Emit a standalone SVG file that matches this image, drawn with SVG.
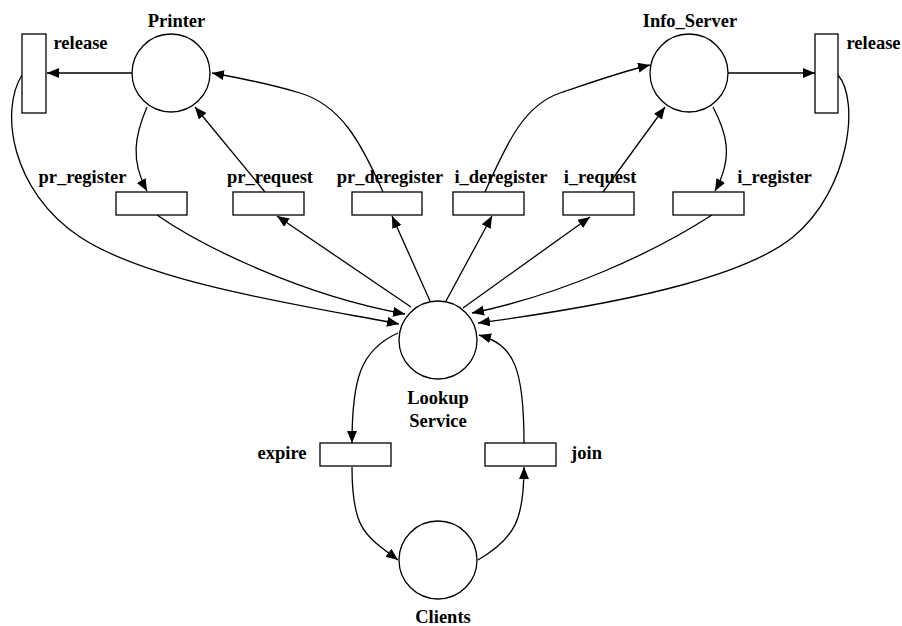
<svg xmlns="http://www.w3.org/2000/svg" width="902" height="626" viewBox="0 0 902 626">
<style>
.place{fill:#fff;stroke:#000;stroke-width:1.3}
.trans{fill:#fff;stroke:#000;stroke-width:1.3}
.lbl{font-family:"Liberation Serif","Times New Roman",serif;font-weight:bold;font-size:18.5px;fill:#000;text-anchor:middle}
.arc{fill:none;stroke:#000;stroke-width:1.3;marker-end:url(#ah)}
</style>
<defs>
<marker id="ah" markerUnits="userSpaceOnUse" markerWidth="13" markerHeight="11" refX="12" refY="5" orient="auto">
<path d="M0,0 L12,5 L0,10 z" fill="#000"/>
</marker>
</defs>
<rect width="902" height="626" fill="#fff"/>
<g id="connectors">
<path class="arc" d="M132,73 L47,73"/>
<path class="arc" d="M22,75 C0,110 10,190 80,237 C150,283 300,305 399,324"/>
<path class="arc" d="M147,107 C135,135 130,160 147,191"/>
<path class="arc" d="M157,215 C200,245 300,295 405,314"/>
<path class="arc" d="M411,307 L277,216"/>
<path class="arc" d="M265,192 L195,107"/>
<path class="arc" d="M383,192 C360,140 340,105 300,93 C270,84 240,78 212,73"/>
<path class="arc" d="M430,301 L392,216"/>
<path class="arc" d="M446,301 L492,216"/>
<path class="arc" d="M485,192 C508,140 525,105 560,93 C590,83 620,72 650,65"/>
<path class="arc" d="M463,308 L590,217"/>
<path class="arc" d="M603,192 L665,107"/>
<path class="arc" d="M713,107 C725,130 735,155 715,191"/>
<path class="arc" d="M712,215 C650,255 560,295 472,313"/>
<path class="arc" d="M728,73 L815,73"/>
<path class="arc" d="M838,75 C860,100 850,190 793,237 C750,272 650,300 478,323"/>
<path class="arc" d="M398,333 C360,350 352,380 352,443"/>
<path class="arc" d="M352,467 C352,530 365,535 398,560"/>
<path class="arc" d="M478,560 C515,538 524,520 524,467"/>
<path class="arc" d="M524,443 C524,370 515,345 479,335"/>
</g>
<g id="Printer"><circle class="place" cx="171" cy="73" r="39"/><text class="lbl" x="176.5" y="27">Printer</text></g>
<g id="Info_Server"><circle class="place" cx="689" cy="73" r="39"/><text class="lbl" x="690" y="27">Info_Server</text></g>
<g id="LookupService"><circle class="place" cx="438" cy="340" r="39"/><text class="lbl" x="438" y="404">Lookup</text><text class="lbl" x="438" y="427">Service</text></g>
<g id="Clients"><circle class="place" cx="438" cy="560" r="39"/><text class="lbl" x="443" y="623">Clients</text></g>
<g id="release_left"><rect class="trans" x="22" y="34" width="24" height="79"/><text class="lbl" x="80.5" y="49">release</text></g>
<g id="release_right"><rect class="trans" x="815" y="34" width="23" height="79"/><text class="lbl" x="873.5" y="49">release</text></g>
<g id="pr_register"><rect class="trans" x="116" y="192" width="71" height="23"/><text class="lbl" x="82.5" y="183">pr_register</text></g>
<g id="pr_request"><rect class="trans" x="233" y="192" width="71" height="23"/><text class="lbl" x="270" y="183">pr_request</text></g>
<g id="pr_deregister"><rect class="trans" x="352" y="192" width="70" height="23"/><text class="lbl" x="390" y="183">pr_deregister</text></g>
<g id="i_deregister"><rect class="trans" x="453" y="192" width="71" height="23"/><text class="lbl" x="501" y="183">i_deregister</text></g>
<g id="i_request"><rect class="trans" x="563" y="192" width="71" height="23"/><text class="lbl" x="600" y="183">i_request</text></g>
<g id="i_register"><rect class="trans" x="673" y="192" width="71" height="23"/><text class="lbl" x="774.5" y="183">i_register</text></g>
<g id="expire"><rect class="trans" x="320" y="443" width="71" height="23"/><text class="lbl" x="282" y="459">expire</text></g>
<g id="join"><rect class="trans" x="485" y="443" width="71" height="23"/><text class="lbl" x="586.5" y="459">join</text></g>
</svg>
